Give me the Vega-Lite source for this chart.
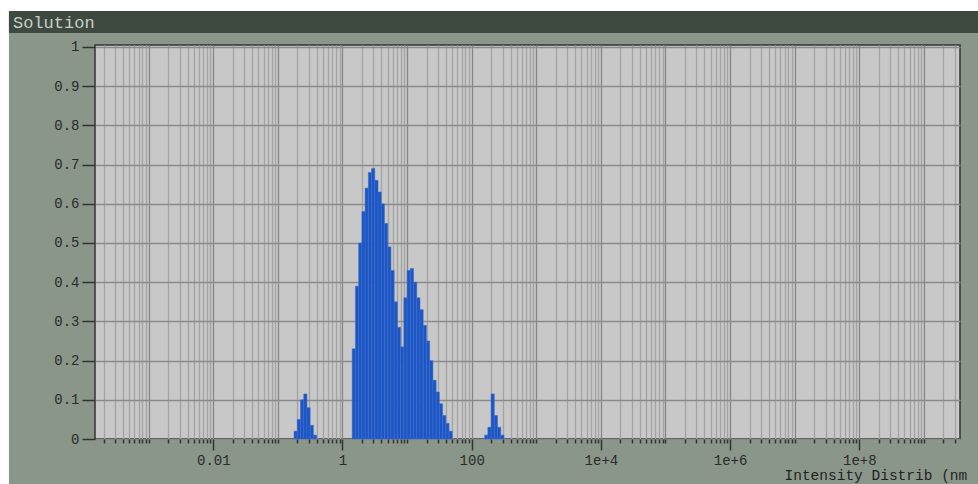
{
  "$schema": "https://vega.github.io/schema/vega-lite/v6.json",
  "width": 865,
  "height": 394,
  "autosize": {"type": "none"},
  "padding": {"left": 95, "top": 45, "right": 18, "bottom": 45},
  "background": "#8b968b",
  "config": {
    "view": {"fill": "#c8c8c8", "stroke": "#333333", "strokeWidth": 1.5},
    "font": "Liberation Mono"
  },
  "datasets": {
    "bars": [
      {"lo": 0.177828, "hi": 0.199526, "v": 0.02},
      {"lo": 0.199526, "hi": 0.223872, "v": 0.05},
      {"lo": 0.223872, "hi": 0.251189, "v": 0.10},
      {"lo": 0.251189, "hi": 0.281838, "v": 0.115},
      {"lo": 0.281838, "hi": 0.316228, "v": 0.08},
      {"lo": 0.316228, "hi": 0.354813, "v": 0.035},
      {"lo": 0.354813, "hi": 0.398107, "v": 0.01},
      {"lo": 1.41254, "hi": 1.58489, "v": 0.23},
      {"lo": 1.58489, "hi": 1.77828, "v": 0.39},
      {"lo": 1.77828, "hi": 1.99526, "v": 0.50},
      {"lo": 1.99526, "hi": 2.23872, "v": 0.58},
      {"lo": 2.23872, "hi": 2.51189, "v": 0.64},
      {"lo": 2.51189, "hi": 2.81838, "v": 0.68},
      {"lo": 2.81838, "hi": 3.16228, "v": 0.69},
      {"lo": 3.16228, "hi": 3.54813, "v": 0.66},
      {"lo": 3.54813, "hi": 3.98107, "v": 0.63},
      {"lo": 3.98107, "hi": 4.46684, "v": 0.60},
      {"lo": 4.46684, "hi": 5.01187, "v": 0.55},
      {"lo": 5.01187, "hi": 5.62341, "v": 0.49},
      {"lo": 5.62341, "hi": 6.30957, "v": 0.43},
      {"lo": 6.30957, "hi": 7.07946, "v": 0.35},
      {"lo": 7.07946, "hi": 7.94328, "v": 0.285},
      {"lo": 7.94328, "hi": 8.91251, "v": 0.235},
      {"lo": 8.91251, "hi": 10, "v": 0.36},
      {"lo": 10, "hi": 11.2202, "v": 0.43},
      {"lo": 11.2202, "hi": 12.5893, "v": 0.435},
      {"lo": 12.5893, "hi": 14.1254, "v": 0.40},
      {"lo": 14.1254, "hi": 15.8489, "v": 0.36},
      {"lo": 15.8489, "hi": 17.7828, "v": 0.33},
      {"lo": 17.7828, "hi": 19.9526, "v": 0.29},
      {"lo": 19.9526, "hi": 22.3872, "v": 0.25},
      {"lo": 22.3872, "hi": 25.1189, "v": 0.20},
      {"lo": 25.1189, "hi": 28.1838, "v": 0.15},
      {"lo": 28.1838, "hi": 31.6228, "v": 0.12},
      {"lo": 31.6228, "hi": 35.4813, "v": 0.09},
      {"lo": 35.4813, "hi": 39.8107, "v": 0.06},
      {"lo": 39.8107, "hi": 44.6684, "v": 0.04},
      {"lo": 44.6684, "hi": 50.1187, "v": 0.02},
      {"lo": 158.489, "hi": 177.828, "v": 0.01},
      {"lo": 177.828, "hi": 199.526, "v": 0.03},
      {"lo": 199.526, "hi": 223.872, "v": 0.115},
      {"lo": 223.872, "hi": 251.189, "v": 0.06},
      {"lo": 251.189, "hi": 281.838, "v": 0.03},
      {"lo": 281.838, "hi": 316.228, "v": 0.01}
    ]
  },
  "layer": [
    {
      "data": {"name": "bars"},
      "mark": {"type": "rect", "color": "#1d56c4", "stroke": "#3a6fd0", "strokeWidth": 0.5},
      "encoding": {
        "x": {
          "field": "lo",
          "type": "quantitative",
          "scale": {"type": "log", "domain": [0.0001476, 3620000000], "nice": false},
          "axis": {
            "values": [0.0002, 0.0003, 0.0004, 0.0005, 0.0006, 0.0007, 0.0008, 0.0009,
              0.001, 0.002, 0.003, 0.004, 0.005, 0.006, 0.007, 0.008, 0.009,
              0.01, 0.02, 0.03, 0.04, 0.05, 0.06, 0.07, 0.08, 0.09,
              0.1, 0.2, 0.3, 0.4, 0.5, 0.6, 0.7, 0.8, 0.9,
              1, 2, 3, 4, 5, 6, 7, 8, 9,
              10, 20, 30, 40, 50, 60, 70, 80, 90,
              100, 200, 300, 400, 500, 600, 700, 800, 900,
              1000, 2000, 3000, 4000, 5000, 6000, 7000, 8000, 9000,
              10000, 20000, 30000, 40000, 50000, 60000, 70000, 80000, 90000,
              100000, 200000, 300000, 400000, 500000, 600000, 700000, 800000, 900000,
              1000000, 2000000, 3000000, 4000000, 5000000, 6000000, 7000000, 8000000, 9000000,
              10000000, 20000000, 30000000, 40000000, 50000000, 60000000, 70000000, 80000000, 90000000,
              100000000, 200000000, 300000000, 400000000, 500000000, 600000000, 700000000, 800000000, 900000000,
              1000000000, 2000000000, 3000000000],
            "labelExpr": "datum.value === 0.01 ? '0.01' : datum.value === 1 ? '1' : datum.value === 100 ? '100' : datum.value === 10000 ? '1e+4' : datum.value === 1000000 ? '1e+6' : datum.value === 100000000 ? '1e+8' : ''",
            "labelOverlap": false,
            "labelFlush": false,
            "labelFont": "Liberation Mono",
            "labelFontSize": 14,
            "labelColor": "#2a2a2a",
            "labelPadding": 3,
            "tickSize": {"condition": {"test": "indexof([0.01, 1, 100, 10000, 1000000, 100000000], datum.value) >= 0", "value": 11}, "value": 4},
            "tickColor": "#333333",
            "tickWidth": 1.5,
            "gridColor": {"condition": {"test": "abs(log(datum.value)/LN10 - round(log(datum.value)/LN10)) < 0.000001", "value": "#868686"}, "value": "#a3a3a3"},
            "gridWidth": 1.3,
            "domain": false,
            "title": "Intensity Distrib (nm",
            "titleFont": "Liberation Mono",
            "titleFontSize": 14.5,
            "titleFontWeight": "normal",
            "titleColor": "#222222",
            "titleAlign": "left",
            "titleBaseline": "alphabetic",
            "titleX": 689,
            "titleY": 40,
            "zindex": 0
          }
        },
        "x2": {"field": "hi"},
        "y": {
          "field": "v",
          "type": "quantitative",
          "scale": {"domain": [0, 1.005], "nice": false},
          "axis": {
            "values": [0, 0.1, 0.2, 0.3, 0.4, 0.5, 0.6, 0.7, 0.8, 0.9, 1],
            "tickCount": 11,
            "format": "~g",
            "title": null,
            "labelOverlap": false,
            "labelFlush": false,
            "tickSize": 13,
            "tickColor": "#333333",
            "tickWidth": 1.5,
            "labelPadding": 3,
            "labelFont": "Liberation Mono",
            "labelFontSize": 14,
            "labelColor": "#2a2a2a",
            "gridColor": "#8a8a8a",
            "gridWidth": 1.5,
            "domain": false,
            "zindex": 0
          }
        },
        "y2": {"datum": 0}
      }
    },
    {
      "data": {"values": [{}]},
      "mark": {"type": "rect", "color": "#ffffff", "clip": false},
      "encoding": {
        "x": {"datum": 1e-8, "type": "quantitative"},
        "x2": {"datum": 6.87e-6},
        "y": {"datum": -1, "type": "quantitative", "axis": {"values": [0, 0.1, 0.2, 0.3, 0.4, 0.5, 0.6, 0.7, 0.8, 0.9, 1], "tickCount": 11, "labelOverlap": false}},
        "y2": {"datum": 2}
      }
    },
    {
      "data": {"values": [{}]},
      "mark": {"type": "rect", "color": "#ffffff", "clip": false},
      "encoding": {
        "x": {"datum": 1e-8, "type": "quantitative"},
        "x2": {"datum": 1e11},
        "y": {"datum": 1.0917, "type": "quantitative", "axis": {"values": [0, 0.1, 0.2, 0.3, 0.4, 0.5, 0.6, 0.7, 0.8, 0.9, 1], "tickCount": 11, "labelOverlap": false}},
        "y2": {"datum": 2}
      }
    },
    {
      "data": {"values": [{}]},
      "mark": {"type": "rect", "color": "#3e4940", "clip": false},
      "encoding": {
        "x": {"datum": 6.87e-6, "type": "quantitative"},
        "x2": {"datum": 1e11},
        "y": {"datum": 1.0356, "type": "quantitative", "axis": {"values": [0, 0.1, 0.2, 0.3, 0.4, 0.5, 0.6, 0.7, 0.8, 0.9, 1], "tickCount": 11, "labelOverlap": false}},
        "y2": {"datum": 1.0917}
      }
    },
    {
      "data": {"values": [{"label": "Solution"}]},
      "mark": {"type": "text", "align": "left", "baseline": "alphabetic", "font": "Liberation Mono", "fontSize": 17, "color": "#c9cec9", "clip": false},
      "encoding": {
        "x": {"datum": 7.93e-6, "type": "quantitative"},
        "y": {"datum": 1.0484, "type": "quantitative", "axis": {"values": [0, 0.1, 0.2, 0.3, 0.4, 0.5, 0.6, 0.7, 0.8, 0.9, 1], "tickCount": 11, "labelOverlap": false}},
        "text": {"field": "label"}
      }
    }
  ]
}
